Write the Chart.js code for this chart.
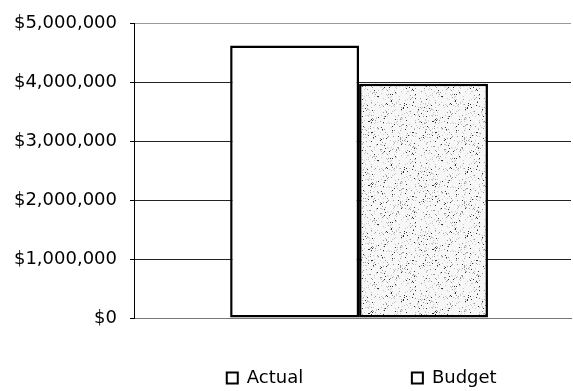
<!DOCTYPE html>
<html>
<head>
<meta charset="utf-8">
<script src="https://cdn.jsdelivr.net/npm/chart.js@4"></script>
<style>
  html, body { margin: 0; padding: 0; background: #fff; }
  #wrap { width: 573px; height: 391px; }
</style>
</head>
<body>
<div id="wrap"><canvas id="BudgetChart" width="573" height="391"></canvas></div>
<script>
    const categories = [""];
    const seriesNames = ["Actual", "Budget"];
    const actualValues = [4630000];
    const budgetValues = [3980000];
    const yTicks = [0, 1000000, 2000000, 3000000, 4000000, 5000000];

    // speckled grey fill like the scanned original
    function stipple() {
        const c = document.createElement("canvas");
        c.width = 64; c.height = 64;
        const g = c.getContext("2d");
        g.fillStyle = "#f7f7f7";
        g.fillRect(0, 0, 64, 64);
        let s = 12345;
        const next = () => { s = (Math.imul(s, 1103515245) + 12345) >>> 0; return s >>> 16; };
        for (let i = 0; i < 480; i++) {
            const x = next() % 64, y = next() % 64, k = next() % 10;
            g.fillStyle = k < 2 ? "#333" : (k < 5 ? "#999" : "#c8c8c8");
            g.fillRect(x, y, 1, 1);
        }
        return g.createPattern(c, "repeat");
    }

    Chart.defaults.font.family = "'DejaVu Sans', sans-serif";
    Chart.defaults.color = "#000";

    let budgetCanvas = document.getElementById("BudgetChart").getContext("2d");
    let budgetChart = new Chart(budgetCanvas, {
        type: "bar",
        data: {
            labels: categories,
            datasets: [{
                label: seriesNames[0],
                data: actualValues,
                backgroundColor: "#fff",
                borderColor: "#000",
                borderWidth: 2.5,
                borderSkipped: false
            }, {
                label: seriesNames[1],
                data: budgetValues,
                backgroundColor: stipple(),
                borderColor: "#000",
                borderWidth: 2.5,
                borderSkipped: false
            }]
        },
        options: {
            responsive: false,
            animation: false,
            layout: { padding: { top: 10, right: 2, left: 0, bottom: -6 } },
            datasets: { bar: { barPercentage: 1, categoryPercentage: 0.59 } },
            scales: {
                x: {
                    grid: { display: false },
                    ticks: { display: false },
                    border: { display: true, color: "#777", dash: [3, 2], width: 1 },
                    // the original group sits a little right of centre
                    afterBuildTicks: (scale) => { scale._startValue -= 0.015; },
                    afterFit: (scale) => { scale.height = 51; }
                },
                y: {
                    min: 0,
                    max: 5000000,
                    afterBuildTicks: (scale) => { scale.ticks = yTicks.map(v => ({ value: v })); },
                    afterFit: (scale) => { scale.width = 134; },
                    grid: {
                        color: (ctx) => ctx.index === 0 ? "rgba(0,0,0,0)" : (ctx.index === 5 ? "#999" : "#222"),
                        tickColor: "#000",
                        tickLength: 4,
                        lineWidth: 1
                    },
                    border: { display: true, color: "#000", width: 1 },
                    ticks: {
                        padding: 13,
                        font: { size: 18 },
                        callback: (v) => "$" + v.toLocaleString("en-US")
                    }
                }
            },
            plugins: {
                legend: {
                    position: "bottom",
                    align: "end",
                    labels: {
                        boxWidth: 11,
                        boxHeight: 11,
                        padding: 0,
                        font: { size: 18 },
                        generateLabels: (chart) => chart.data.datasets.map((ds, i) => ({
                            text: ds.label + (i === 0 ? " ".repeat(19) : " ".repeat(13)),
                            fillStyle: "#fff",
                            strokeStyle: "#000",
                            lineWidth: 2,
                            datasetIndex: i
                        }))
                    }
                },
                tooltip: { enabled: false }
            }
        }
    });
</script>
</body>
</html>
